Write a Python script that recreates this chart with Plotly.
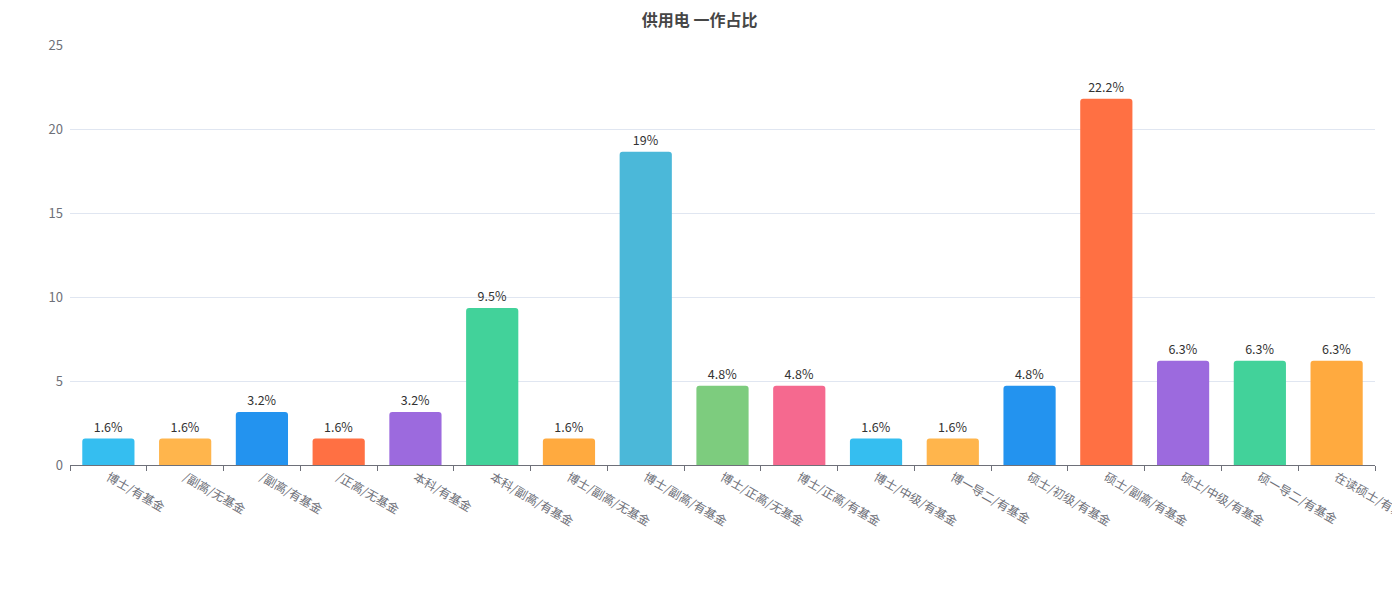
import plotly.graph_objects as go

categories = ["博士/有基金", "/副高/无基金", "/副高/有基金", "/正高/无基金", "本科/有基金",
              "本科/副高/有基金", "博士/副高/无基金", "博士/副高/有基金", "博士/正高/无基金",
              "博士/正高/有基金", "博士/中级/有基金", "博一导二/有基金", "硕士/初级/有基金",
              "硕士/副高/有基金", "硕士/中级/有基金", "硕一导二/有基金", "在读硕士/有基金"]
values = [1.57, 1.57, 3.15, 1.57, 3.15, 9.35, 1.57, 18.65, 4.72, 4.72, 1.57, 1.57, 4.72,
          21.8, 6.2, 6.2, 6.2]
value_labels = ["1.6%", "1.6%", "3.2%", "1.6%", "3.2%", "9.5%", "1.6%", "19%", "4.8%", "4.8%",
                "1.6%", "1.6%", "4.8%", "22.2%", "6.3%", "6.3%", "6.3%"]
colors = ["#35BEF0", "#FFB54C", "#2393EF", "#FF7043", "#9C6ADE", "#42D29A", "#FFAA3F",
          "#4BB8D9", "#7DCC7E", "#F5698F", "#35BEF0", "#FFB54C", "#2393EF", "#FF7043",
          "#9C6ADE", "#42D29A", "#FFAA3F"]
title_text = "供用电 一作占比"

font_family = "Noto Sans CJK SC, Microsoft YaHei, sans-serif"

fig = go.Figure(go.Bar(
    x=categories, y=values, text=value_labels, textposition="outside",
    textfont=dict(size=12.5, color="#333333", family=font_family),
    marker=dict(color=colors, cornerradius=3, line=dict(width=0)),
    cliponaxis=False,
))

fig.update_layout(
    width=1400, height=600,
    paper_bgcolor="white", plot_bgcolor="white",
    margin=dict(l=62, r=33, t=37, b=143),
    bargap=0.32,
    showlegend=False,
    font=dict(family=font_family),
    title=dict(text="<b>" + title_text + "</b>", x=0.494, xanchor="center", y=0.98, yanchor="middle",
               font=dict(size=16, color="#464646", family=font_family)),
    yaxis=dict(range=[0, 25], dtick=5, showgrid=True, gridcolor="#E0E6F1", gridwidth=1,
               zeroline=False, showline=False, ticks="", automargin=False,
               tickfont=dict(size=13, color="#6E7079"), ticklabelstandoff=6),
    xaxis=dict(type="category", tickangle=30, tickson="boundaries", ticks="outside",
               ticklen=5, tickcolor="#6E7079", showline=True, linecolor="#6E7079",
               linewidth=1, showgrid=False, automargin=False,
               tickfont=dict(size=12, color="#6E7079")),
)

fig.write_html("out.html")
